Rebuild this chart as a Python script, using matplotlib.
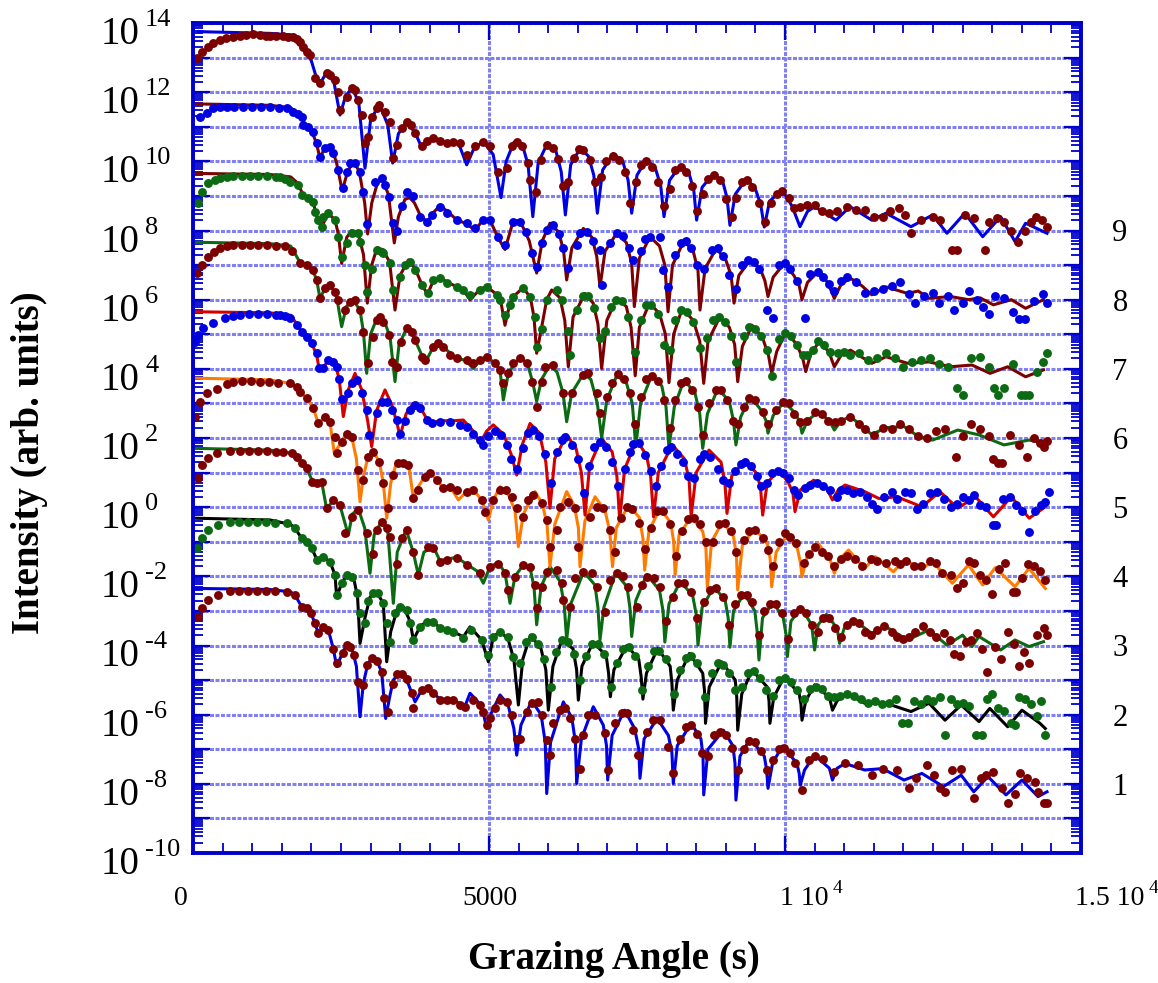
import numpy as np
import matplotlib
matplotlib.use("Agg")
import matplotlib.pyplot as plt
from matplotlib.transforms import ScaledTranslation, blended_transform_factory
from matplotlib.ticker import LogLocator, MultipleLocator, FixedLocator, NullFormatter

plt.rcParams['font.family'] = ['Liberation Serif', 'DejaVu Serif']

# ---------------- data (x in s, y as log10 intensity before the display shift) -------------
SHIFT_DECADES = [0, 2, 4, 6, 8, 10, 12, 14, 16]
CURVE_LABELS = ['1', '2', '3', '4', '5', '6', '7', '8', '9']

LINE_1 = [(60,-2.35),(1300,-2.38),(1650,-2.45),(1723,-2.54),(1836,-2.88),(1920,-2.93),(1993,-3.07),(2061,-3.36),(2117,-3.65),(2202,-3.46),(2286,-3.55),(2371,-4.1),(2427,-4.61),(2528,-4.2),(2600,-3.97),(2680,-4.05),(2760,-4.6),(2821,-6.06),(2877,-5.1),(2950,-4.55),(3018,-4.37),(3103,-4.44),(3187,-4.76),(3255,-6.11),(3320,-5.5),(3384,-5.0),(3480,-4.8),(3600,-4.95),(3690,-5.35),(3750,-5.63),(3863,-5.29),(3975,-5.24),(4060,-5.38),(4172,-5.55),(4400,-5.58),(4595,-5.75),(4679,-5.38),(4800,-5.6),(4904,-5.95),(4961,-6.4),(5040,-5.95),(5186,-5.43),(5320,-5.7),(5420,-6.4),(5468,-7.17),(5540,-6.3),(5721,-5.6),(5880,-6.0),(5950,-6.8),(5975,-8.28),(6040,-6.8),(6256,-5.63),(6400,-6.1),(6460,-6.8),(6481,-7.99),(6560,-6.7),(6762,-5.77),(6930,-6.3),(6985,-6.9),(7005,-7.89),(7080,-6.6),(7290,-5.87),(7460,-6.4),(7530,-7.0),(7550,-7.84),(7620,-6.7),(7841,-6.11),(8030,-6.6),(8090,-7.1),(8113,-7.99),(8180,-6.9),(8415,-6.25),(8580,-6.7),(8615,-7.2),(8627,-8.32),(8700,-7.0),(8960,-6.45),(9120,-6.9),(9155,-7.4),(9171,-8.47),(9240,-7.2),(9412,-6.69),(9650,-7.2),(9690,-7.6),(9713,-8.13),(9790,-7.4),(9956,-6.91),(10200,-7.4),(10240,-7.7),(10258,-8.04),(10330,-7.6),(10500,-7.17),(10750,-7.55),(10802,-7.89),(10880,-7.55),(11014,-7.41),(11346,-7.6),(11647,-7.56),(12010,-7.89),(12313,-7.7),(12675,-8.08),(12976,-7.75),(13188,-8.23),(13429,-7.79),(13733,-8.32),(14003,-7.89),(14274,-8.37),(14426,-8.23)]
DOTS_1 = [(90,-3.17),(147,-2.93),(259,-2.69),(428,-2.54),(625,-2.42),(780,-2.42),(930,-2.42),(1080,-2.42),(1230,-2.43),(1380,-2.43),(1582,-2.44),(1723,-2.54),(1836,-2.88),(1920,-2.93),(1993,-3.07),(2061,-3.36),(2117,-3.65),(2202,-3.46),(2286,-3.55),(2371,-4.1),(2427,-4.5),(2528,-4.21),(2596,-3.99),(2652,-4.04),(2720,-4.28),(2793,-5.05),(2877,-5.14),(2934,-4.57),(3018,-4.37),(3103,-4.44),(3187,-4.76),(3226,-5.53),(3299,-5.91),(3384,-5.1),(3441,-4.81),(3525,-4.81),(3609,-4.98),(3694,-5.38),(3722,-5.82),(3863,-5.29),(3975,-5.24),(4060,-5.38),(4172,-5.58),(4285,-5.58),(4397,-5.58),(4510,-5.72),(4595,-5.77),(4735,-5.58),(4848,-5.72),(4904,-5.91),(4961,-6.3),(5017,-6.11),(5101,-5.82),(5186,-5.58),(5298,-5.63),(5383,-6.01),(5468,-6.69),(5524,-6.69),(5636,-5.91),(5721,-5.67),(5833,-5.63),(5889,-6.01),(5975,-6.74),(6030,-7.17),(6087,-6.25),(6199,-5.87),(6284,-5.82),(6368,-6.11),(6453,-6.69),(6537,-7.56),(6594,-6.59),(6678,-6.01),(6791,-6.01),(6959,-6.54),(7016,-7.6),(7128,-6.25),(7241,-5.96),(7326,-5.94),(7438,-6.45),(7523,-7.17),(7664,-6.49),(7776,-6.16),(7889,-6.16),(8030,-6.93),(8113,-7.7),(8230,-6.7),(8330,-6.35),(8420,-6.3),(8520,-6.55),(8600,-7.1),(8700,-7.2),(8800,-6.6),(8900,-6.5),(9000,-6.6),(9100,-6.95),(9200,-7.6),(9300,-7.0),(9400,-6.75),(9500,-6.8),(9600,-7.05),(9700,-7.6),(9800,-7.3),(9900,-7.0),(9990,-6.95),(10080,-7.1),(10169,-7.41),(10287,-8.18),(10405,-7.31),(10500,-7.2),(10650,-7.27),(10828,-7.65),(11014,-7.41),(11225,-7.46),(11466,-7.75),(11647,-7.56),(11890,-7.6),(12101,-8.13),(12221,-7.84),(12403,-7.46),(12523,-7.75),(12615,-8.13),(12705,-8.23),(12826,-7.6),(12976,-7.56),(13188,-8.42),(13311,-7.84),(13400,-7.75),(13520,-7.65),(13672,-8.13),(13762,-8.56),(13885,-8.28),(13973,-7.7),(14095,-7.84),(14216,-7.94),(14274,-8.23),(14367,-8.56),(14430,-8.56)]

LINE_2 = [(60,-2.32),(1300,-2.37),(1650,-2.5),(1723,-2.61),(1836,-2.9),(1920,-3.0),(2005,-3.19),(2089,-3.5),(2202,-3.43),(2314,-3.58),(2399,-3.96),(2427,-4.6),(2522,-4.15),(2620,-3.95),(2720,-4.1),(2780,-4.6),(2821,-5.94),(2905,-5.2),(2990,-4.6),(3100,-4.45),(3215,-4.78),(3272,-6.47),(3340,-5.6),(3450,-4.95),(3560,-4.9),(3666,-5.3),(3722,-5.84),(3834,-5.46),(3947,-5.3),(4060,-5.3),(4172,-5.5),(4397,-5.6),(4566,-5.75),(4679,-5.46),(4876,-5.84),(4989,-6.47),(5073,-5.74),(5186,-5.6),(5320,-5.8),(5420,-6.4),(5496,-7.72),(5570,-6.4),(5700,-5.7),(5880,-6.1),(5960,-6.7),(6002,-7.87),(6080,-6.6),(6240,-5.8),(6420,-6.1),(6480,-6.7),(6509,-7.58),(6570,-6.6),(6760,-5.9),(6980,-6.3),(7020,-6.8),(7050,-7.48),(7110,-6.7),(7328,-6.0),(7530,-6.4),(7570,-6.9),(7600,-7.55),(7660,-6.8),(7850,-6.08),(8060,-6.6),(8090,-7.1),(8113,-7.87),(8180,-7.0),(8385,-6.23),(8610,-6.8),(8640,-7.3),(8657,-8.25),(8720,-7.2),(8929,-6.47),(9160,-7.0),(9185,-7.5),(9201,-8.45),(9270,-7.4),(9443,-6.71),(9700,-7.2),(9730,-7.6),(9745,-8.25),(9810,-7.5),(9987,-6.9),(10240,-7.4),(10270,-7.7),(10287,-8.16),(10350,-7.6),(10500,-7.14),(10750,-7.5),(10802,-7.87),(10880,-7.6),(11044,-7.38),(11346,-7.67),(11706,-7.67),(12128,-7.91),(12433,-7.67),(12703,-8.16),(12976,-7.72),(13277,-8.2),(13459,-7.82),(13762,-8.35),(14003,-7.87),(14306,-8.25),(14397,-8.4)]
DOTS_2 = [(62,-3.19),(147,-2.9),(259,-2.66),(428,-2.52),(625,-2.42),(780,-2.42),(930,-2.42),(1080,-2.43),(1230,-2.44),(1380,-2.45),(1582,-2.47),(1723,-2.61),(1836,-2.9),(1920,-3.0),(2005,-3.19),(2089,-3.53),(2202,-3.43),(2314,-3.58),(2399,-3.96),(2427,-4.54),(2522,-4.2),(2596,-3.96),(2680,-4.01),(2765,-4.49),(2821,-5.07),(2905,-5.36),(2962,-4.71),(3046,-4.49),(3130,-4.49),(3215,-4.78),(3272,-5.36),(3328,-5.89),(3412,-5.07),(3497,-4.88),(3609,-4.97),(3666,-5.36),(3722,-5.84),(3834,-5.46),(3947,-5.31),(4060,-5.31),(4172,-5.5),(4285,-5.55),(4397,-5.6),(4566,-5.79),(4700,-5.55),(4876,-5.84),(4989,-6.28),(5073,-5.74),(5186,-5.6),(5327,-5.74),(5411,-6.32),(5530,-6.5),(5620,-5.9),(5720,-5.75),(5830,-5.95),(5930,-6.4),(6040,-7.2),(6130,-6.2),(6230,-5.85),(6330,-5.9),(6430,-6.25),(6540,-7.0),(6640,-6.3),(6740,-5.95),(6840,-5.95),(6940,-6.25),(7060,-7.2),(7160,-6.5),(7260,-6.1),(7360,-6.05),(7460,-6.3),(7580,-7.3),(7680,-6.6),(7780,-6.15),(7880,-6.15),(7990,-6.4),(8120,-7.4),(8220,-6.7),(8320,-6.35),(8420,-6.3),(8520,-6.5),(8650,-7.5),(8760,-6.8),(8860,-6.5),(8960,-6.55),(9060,-6.8),(9150,-7.3),(9270,-7.2),(9380,-6.8),(9480,-6.75),(9580,-6.95),(9680,-7.3),(9800,-7.45),(9900,-7.0),(10000,-6.95),(10100,-7.05),(10200,-7.3),(10320,-7.55),(10420,-7.25),(10520,-7.2),(10620,-7.25),(10720,-7.45),(10830,-7.5),(10930,-7.45),(11040,-7.4),(11160,-7.45),(11280,-7.55),(11400,-7.65),(11520,-7.6),(11640,-7.7),(11760,-7.65),(11870,-7.55),(11980,-8.25),(12070,-8.25),(12180,-7.6),(12300,-7.7),(12400,-7.55),(12500,-7.6),(12620,-7.5),(12700,-8.6),(12800,-7.55),(12900,-7.7),(13000,-7.65),(13100,-7.75),(13230,-8.6),(13330,-8.6),(13420,-7.55),(13500,-7.4),(13600,-7.8),(13700,-7.9),(13820,-8.25),(13880,-8.3),(13960,-7.5),(14060,-7.55),(14160,-7.7),(14260,-8.05),(14330,-7.6),(14397,-8.6)]

LINE_3 = [(60,-2.3),(1300,-2.35),(1667,-2.44),(1751,-2.54),(1836,-2.73),(1920,-2.88),(2005,-3.2),(2089,-3.3),(2174,-3.28),(2258,-4.05),(2371,-3.8),(2483,-3.95),(2624,-4.81),(2690,-4.2),(2793,-4.05),(2900,-4.6),(2990,-5.91),(3060,-4.8),(3187,-4.4),(3290,-4.7),(3384,-6.78),(3450,-5.3),(3600,-4.65),(3720,-5.3),(3806,-5.96),(3900,-5.3),(4060,-5.15),(4172,-5.55),(4300,-5.5),(4454,-5.45),(4623,-5.65),(4800,-5.85),(4904,-6.2),(5017,-5.72),(5158,-5.6),(5270,-5.9),(5355,-6.78),(5439,-6.0),(5580,-5.67),(5693,-5.75),(5760,-6.3),(5805,-7.4),(5880,-6.3),(6030,-5.72),(6200,-6.15),(6270,-6.8),(6312,-7.84),(6380,-6.8),(6600,-5.87),(6790,-6.25),(6840,-6.9),(6875,-7.84),(6940,-6.9),(7140,-5.9),(7330,-6.3),(7380,-6.9),(7410,-7.74),(7480,-6.7),(7664,-5.95),(7880,-6.4),(7940,-7.0),(7970,-7.9),(8040,-6.8),(8230,-6.15),(8440,-6.55),(8500,-7.1),(8530,-7.99),(8600,-6.9),(8800,-6.3),(8990,-6.7),(9040,-7.2),(9070,-8.05),(9130,-7.0),(9310,-6.5),(9490,-7.0),(9530,-7.6),(9560,-8.42),(9620,-7.2),(9800,-6.75),(9970,-7.2),(10020,-7.7),(10040,-8.32),(10100,-7.3),(10270,-6.9),(10450,-7.4),(10500,-8.13),(10560,-7.4),(10700,-7.1),(10880,-7.5),(10922,-7.94),(11000,-7.5),(11164,-7.26),(11466,-7.65),(11706,-7.46),(12071,-7.84),(12433,-7.55),(12736,-7.99),(13000,-7.7),(13159,-8.03),(13277,-7.74),(13642,-8.13),(13885,-7.84),(14122,-8.03),(14367,-7.89)]
DOTS_3 = [(90,-3.17),(147,-2.78),(259,-2.59),(400,-2.44),(625,-2.37),(800,-2.37),(950,-2.37),(1100,-2.38),(1250,-2.39),(1400,-2.4),(1526,-2.4),(1667,-2.44),(1751,-2.54),(1836,-2.73),(1920,-2.88),(2005,-3.26),(2089,-3.31),(2174,-3.26),(2258,-4.03),(2371,-3.79),(2483,-3.94),(2568,-4.76),(2680,-4.28),(2793,-4.08),(2934,-4.76),(3035,-5.34),(3103,-4.66),(3187,-4.42),(3272,-4.61),(3328,-4.86),(3441,-5.63),(3525,-4.9),(3609,-4.66),(3722,-5.29),(3806,-5.96),(3975,-5.14),(4060,-5.17),(4172,-5.58),(4285,-5.53),(4454,-5.48),(4623,-5.67),(4848,-5.91),(5017,-5.72),(5158,-5.63),(5270,-5.91),(5327,-6.4),(5439,-6.01),(5580,-5.67),(5693,-5.72),(5777,-6.25),(5805,-6.93),(5889,-6.3),(5975,-5.87),(6143,-5.82),(6228,-6.2),(6256,-6.69),(6368,-6.88),(6453,-6.06),(6594,-5.87),(6734,-5.91),(6819,-6.3),(6959,-7.02),(7044,-6.11),(7157,-5.91),(7260,-6.0),(7354,-6.3),(7500,-6.9),(7580,-6.25),(7664,-6.01),(7780,-6.05),(7889,-6.3),(7990,-7.3),(8100,-6.6),(8200,-6.2),(8300,-6.2),(8420,-6.45),(8520,-7.2),(8640,-6.75),(8740,-6.4),(8840,-6.35),(8950,-6.6),(9050,-7.4),(9150,-6.8),(9250,-6.55),(9350,-6.55),(9450,-6.75),(9560,-7.7),(9650,-7.0),(9740,-6.8),(9840,-6.8),(9950,-7.05),(10050,-7.8),(10150,-7.05),(10250,-6.95),(10350,-7.05),(10450,-7.4),(10560,-7.6),(10650,-7.2),(10750,-7.2),(10850,-7.5),(10950,-7.75),(11050,-7.4),(11150,-7.3),(11250,-7.35),(11350,-7.6),(11450,-7.7),(11560,-7.55),(11680,-7.45),(11800,-7.6),(11900,-7.75),(12000,-7.8),(12100,-7.75),(12200,-7.6),(12330,-7.45),(12450,-7.6),(12550,-7.75),(12680,-7.65),(12780,-7.85),(12860,-8.25),(12950,-8.3),(13050,-7.9),(13150,-7.85),(13250,-7.65),(13330,-8.1),(13420,-8.76),(13550,-8.05),(13650,-8.4),(13760,-7.6),(13870,-7.95),(13950,-8.6),(14040,-8.2),(14130,-8.5),(14250,-7.7),(14370,-7.5),(14430,-7.7)]

LINE_4 = [(60,-2.27),(1300,-2.32),(1639,-2.42),(1751,-2.52),(1807,-2.66),(1920,-2.85),(2033,-3.14),(2117,-3.58),(2230,-3.38),(2314,-3.55),(2387,-4.44),(2511,-4.1),(2600,-3.85),(2680,-3.96),(2760,-4.6),(2821,-5.84),(2880,-5.1),(2962,-4.5),(3046,-4.38),(3147,-4.69),(3215,-5.3),(3272,-6.32),(3340,-5.3),(3430,-4.75),(3560,-4.7),(3650,-4.85),(3722,-5.74),(3790,-5.45),(3919,-5.1),(4003,-5.0),(4116,-5.2),(4229,-5.45),(4341,-5.4),(4482,-5.79),(4623,-5.55),(4735,-5.5),(4876,-5.79),(4989,-6.37),(5073,-5.79),(5186,-5.41),(5330,-5.65),(5440,-6.1),(5496,-7.14),(5580,-6.2),(5777,-5.55),(5900,-5.9),(5980,-6.5),(6030,-7.72),(6110,-6.5),(6312,-5.55),(6440,-5.95),(6510,-6.6),(6537,-7.72),(6620,-6.4),(6791,-5.7),(6960,-6.1),(7040,-6.7),(7086,-7.72),(7150,-6.6),(7358,-5.94),(7540,-6.3),(7600,-6.9),(7630,-7.82),(7700,-6.7),(7887,-6.03),(8070,-6.45),(8120,-7.0),(8144,-7.96),(8210,-6.8),(8416,-6.28),(8610,-6.7),(8665,-7.2),(8688,-8.35),(8760,-7.0),(8944,-6.42),(9130,-6.85),(9180,-7.4),(9201,-8.39),(9280,-7.1),(9488,-6.61),(9700,-7.05),(9750,-7.5),(9775,-8.3),(9850,-7.3),(10031,-6.81),(10210,-7.2),(10260,-7.6),(10287,-8.01),(10370,-7.45),(10560,-7.05),(10760,-7.5),(10833,-7.91),(10920,-7.5),(11074,-7.24),(11346,-7.77),(11527,-7.43),(11830,-7.87),(12010,-7.53),(12313,-7.77),(12493,-7.58),(12826,-8.2),(13098,-7.67),(13339,-8.25),(13550,-7.75),(13885,-8.3),(14122,-7.77),(14397,-8.35)]
DOTS_4 = [(34,-3.38),(118,-2.95),(231,-2.71),(400,-2.57),(569,-2.45),(681,-2.37),(830,-2.36),(980,-2.36),(1130,-2.37),(1280,-2.38),(1430,-2.4),(1639,-2.42),(1751,-2.52),(1807,-2.66),(1920,-2.85),(2033,-3.14),(2117,-3.58),(2230,-3.38),(2314,-3.53),(2399,-3.96),(2440,-4.44),(2511,-4.11),(2596,-3.87),(2680,-3.96),(2793,-4.93),(2866,-5.22),(2962,-4.54),(3046,-4.4),(3147,-4.69),(3215,-5.31),(3299,-6.03),(3384,-5.07),(3469,-4.73),(3553,-4.73),(3637,-4.78),(3722,-5.74),(3806,-5.5),(3919,-5.12),(4003,-5.02),(4116,-5.22),(4229,-5.46),(4341,-5.41),(4454,-5.5),(4623,-5.55),(4735,-5.5),(4876,-5.79),(4932,-6.13),(5073,-5.79),(5186,-5.5),(5280,-5.5),(5383,-5.7),(5468,-6.03),(5580,-6.28),(5664,-5.79),(5749,-5.65),(5889,-5.89),(5975,-6.37),(6030,-7.14),(6143,-6.66),(6199,-5.99),(6340,-5.84),(6453,-6.03),(6509,-7.14),(6706,-6.28),(6819,-5.99),(6931,-6.03),(7044,-6.66),(7120,-7.3),(7230,-6.3),(7330,-6.0),(7420,-6.05),(7530,-6.45),(7640,-7.2),(7740,-6.6),(7840,-6.1),(7940,-6.1),(8050,-6.5),(8160,-7.4),(8260,-6.7),(8360,-6.35),(8460,-6.3),(8560,-6.5),(8660,-7.0),(8780,-7.0),(8880,-6.5),(8980,-6.45),(9080,-6.7),(9180,-7.3),(9300,-6.95),(9400,-6.7),(9500,-6.65),(9620,-6.9),(9720,-7.25),(9800,-7.7),(9900,-7.0),(10000,-6.75),(10080,-6.85),(10180,-7.05),(10320,-7.6),(10400,-7.35),(10500,-7.15),(10620,-7.3),(10720,-7.4),(10830,-7.7),(10950,-7.5),(11050,-7.4),(11180,-7.5),(11300,-7.7),(11450,-7.5),(11560,-7.55),(11700,-7.6),(11850,-7.55),(11950,-7.65),(12050,-7.55),(12180,-7.7),(12300,-7.7),(12450,-7.55),(12550,-7.6),(12650,-7.9),(12800,-7.95),(12900,-8.35),(13000,-8.2),(13100,-7.55),(13200,-7.6),(13300,-7.95),(13400,-8.1),(13490,-8.5),(13620,-7.8),(13720,-7.6),(13850,-8.45),(13900,-8.45),(14000,-8.05),(14100,-7.65),(14200,-7.7),(14300,-7.85),(14400,-8.1)]

LINE_5 = [(60,-2.35),(1300,-2.38),(1650,-2.45),(1751,-2.7),(1836,-2.93),(1920,-3.07),(2005,-3.26),(2089,-3.6),(2134,-4.03),(2202,-3.95),(2290,-3.75),(2400,-3.85),(2470,-4.3),(2539,-5.38),(2624,-4.6),(2737,-4.13),(2849,-4.6),(2950,-5.5),(3018,-6.25),(3103,-5.2),(3243,-4.61),(3360,-5.05),(3450,-5.6),(3497,-5.95),(3600,-5.3),(3720,-5.0),(3834,-5.1),(3950,-5.45),(4032,-5.55),(4200,-5.5),(4400,-5.5),(4566,-5.48),(4735,-5.8),(4848,-6.15),(4960,-5.8),(5073,-5.62),(5250,-5.9),(5380,-6.5),(5468,-7.07),(5560,-6.2),(5693,-5.58),(5850,-5.85),(5960,-6.7),(6030,-8.03),(6110,-6.6),(6312,-5.91),(6470,-6.3),(6560,-7.0),(6622,-8.23),(6700,-6.8),(6900,-6.01),(7080,-6.4),(7160,-7.1),(7208,-8.37),(7290,-6.9),(7494,-6.06),(7660,-6.5),(7730,-7.1),(7780,-8.28),(7860,-7.0),(8097,-6.2),(8300,-6.6),(8380,-7.2),(8415,-8.28),(8500,-7.0),(8717,-6.35),(8920,-6.7),(8985,-7.3),(9020,-8.18),(9100,-7.1),(9321,-6.64),(9510,-7.0),(9585,-7.4),(9623,-8.23),(9700,-7.3),(9896,-6.91),(10060,-7.3),(10135,-7.6),(10169,-8.13),(10260,-7.5),(10485,-7.22),(10700,-7.45),(10802,-7.79),(10900,-7.5),(11014,-7.36),(11346,-7.55),(11588,-7.75),(11890,-7.7),(12313,-7.99),(12615,-7.55),(12918,-8.03),(13218,-7.7),(13520,-8.28),(13823,-7.7),(14125,-8.32),(14397,-7.99)]
DOTS_5 = [(34,-3.22),(90,-3.03),(174,-2.83),(343,-2.68),(540,-2.54),(680,-2.47),(794,-2.44),(950,-2.42),(1100,-2.42),(1250,-2.42),(1400,-2.43),(1470,-2.44),(1560,-2.48),(1639,-2.54),(1751,-2.73),(1836,-2.93),(1920,-3.07),(2005,-3.26),(2089,-3.55),(2134,-3.99),(2202,-3.99),(2286,-3.75),(2371,-3.8),(2427,-3.94),(2472,-4.28),(2511,-4.86),(2624,-4.71),(2680,-4.42),(2765,-4.32),(2849,-4.71),(2934,-5.19),(2979,-5.91),(3103,-5.29),(3187,-4.95),(3272,-4.95),(3356,-5.19),(3441,-5.48),(3497,-5.87),(3580,-5.5),(3666,-5.19),(3750,-5.05),(3834,-5.14),(3947,-5.48),(4032,-5.58),(4172,-5.53),(4341,-5.53),(4510,-5.63),(4623,-5.67),(4735,-5.87),(4848,-6.06),(4904,-6.2),(4990,-5.95),(5100,-5.8),(5200,-5.9),(5300,-6.2),(5380,-6.6),(5480,-6.9),(5570,-6.3),(5660,-5.85),(5749,-5.77),(5850,-5.95),(5950,-6.45),(6050,-7.3),(6150,-6.4),(6230,-6.05),(6284,-5.96),(6400,-6.2),(6500,-6.6),(6600,-7.6),(6690,-6.8),(6780,-6.25),(6875,-6.11),(6980,-6.25),(7080,-6.7),(7180,-7.4),(7300,-6.9),(7380,-6.4),(7438,-6.16),(7530,-6.15),(7640,-6.5),(7730,-6.95),(7820,-7.4),(7900,-6.8),(8000,-6.35),(8080,-6.25),(8180,-6.45),(8280,-6.7),(8360,-7.1),(8470,-7.15),(8560,-6.6),(8640,-6.45),(8730,-6.55),(8860,-6.9),(8960,-7.2),(9060,-7.3),(9150,-6.95),(9250,-6.75),(9330,-6.7),(9420,-6.8),(9520,-7.1),(9600,-7.4),(9700,-7.3),(9780,-7.0),(9880,-6.95),(9960,-7.0),(10060,-7.15),(10150,-7.5),(10220,-7.65),(10330,-7.45),(10420,-7.35),(10540,-7.3),(10650,-7.4),(10760,-7.5),(10880,-7.7),(10950,-7.5),(11050,-7.5),(11150,-7.6),(11270,-7.55),(11380,-7.7),(11470,-7.9),(11560,-8.05),(11680,-7.7),(11800,-7.55),(11900,-7.75),(12020,-7.55),(12120,-7.6),(12230,-8.05),(12330,-7.9),(12450,-7.6),(12560,-7.55),(12680,-7.75),(12800,-8.0),(12900,-7.9),(13000,-7.7),(13100,-7.8),(13200,-7.65),(13300,-7.95),(13400,-8.0),(13520,-8.52),(13560,-8.52),(13680,-7.75),(13800,-7.7),(13900,-7.95),(14000,-8.1),(14125,-8.71),(14230,-8.1),(14330,-7.95),(14400,-7.85),(14460,-7.55)]

LINE_6 = [(60,-2.34),(1300,-2.38),(1650,-2.45),(1800,-2.9),(1920,-3.0),(2022,-3.14),(2089,-3.43),(2145,-3.96),(2230,-3.67),(2314,-3.58),(2420,-3.85),(2511,-4.78),(2590,-4.2),(2700,-4.0),(2821,-4.3),(2880,-4.95),(2934,-6.13),(3000,-5.0),(3103,-4.55),(3159,-4.49),(3250,-4.7),(3330,-5.1),(3412,-6.37),(3480,-5.3),(3609,-4.83),(3720,-5.05),(3863,-5.6),(3930,-5.8),(4060,-5.36),(4144,-5.26),(4280,-5.45),(4454,-5.7),(4600,-5.75),(4735,-5.99),(4848,-5.75),(4961,-5.65),(5101,-5.84),(5186,-6.03),(5242,-6.9),(5327,-6.13),(5450,-5.8),(5550,-5.7),(5650,-5.85),(5740,-6.4),(5805,-6.94),(5889,-6.3),(6030,-5.89),(6150,-6.1),(6250,-6.7),(6312,-7.53),(6397,-6.7),(6594,-6.15),(6720,-6.3),(6830,-7.0),(6903,-8.0),(6990,-6.9),(7157,-6.2),(7320,-6.4),(7420,-7.0),(7480,-8.25),(7560,-7.0),(7751,-6.18),(7920,-6.5),(7990,-7.1),(8040,-8.3),(8130,-7.1),(8294,-6.32),(8480,-6.7),(8560,-7.3),(8610,-8.3),(8690,-7.3),(8868,-6.56),(9060,-6.95),(9130,-7.5),(9171,-8.2),(9250,-7.4),(9412,-6.8),(9600,-7.2),(9680,-7.5),(9713,-7.86),(9800,-7.35),(9987,-6.95),(10180,-7.3),(10250,-7.55),(10287,-7.86),(10380,-7.5),(10561,-7.24),(10750,-7.5),(10833,-7.77),(10950,-7.5),(11105,-7.38),(11466,-7.9),(11706,-7.7),(12010,-7.67),(12250,-7.95),(12493,-8.06),(12918,-7.77),(13277,-7.91),(13699,-8.2),(14122,-8.06),(14392,-8.15)]
DOTS_6 = [(73,-3.22),(147,-3.0),(259,-2.76),(360,-2.62),(456,-2.52),(570,-2.46),(681,-2.42),(820,-2.42),(960,-2.42),(1100,-2.42),(1250,-2.43),(1400,-2.44),(1550,-2.46),(1680,-2.6),(1807,-2.95),(1920,-3.0),(2022,-3.14),(2089,-3.43),(2145,-3.96),(2230,-3.67),(2314,-3.58),(2399,-3.77),(2455,-4.01),(2568,-4.3),(2652,-4.06),(2737,-4.01),(2821,-4.3),(2877,-4.93),(2962,-5.84),(3035,-5.07),(3103,-4.59),(3159,-4.49),(3215,-4.64),(3316,-5.02),(3356,-5.79),(3441,-5.94),(3508,-5.22),(3609,-4.83),(3694,-4.93),(3750,-5.17),(3863,-5.65),(3919,-5.75),(4060,-5.36),(4144,-5.26),(4229,-5.36),(4341,-5.6),(4454,-5.7),(4623,-5.75),(4735,-5.84),(4848,-5.75),(4961,-5.65),(5101,-5.84),(5186,-6.03),(5242,-6.42),(5327,-6.13),(5411,-5.84),(5524,-5.7),(5636,-5.84),(5721,-6.37),(5805,-7.09),(5889,-6.37),(5946,-5.94),(6087,-5.9),(6256,-6.71),(6397,-6.71),(6594,-6.18),(6678,-6.13),(6819,-6.71),(6875,-7.29),(6990,-6.8),(7080,-6.4),(7177,-6.15),(7280,-6.3),(7380,-6.7),(7460,-7.6),(7560,-6.8),(7660,-6.3),(7751,-6.2),(7850,-6.35),(7950,-6.9),(8050,-7.7),(8140,-6.9),(8250,-6.4),(8330,-6.35),(8430,-6.6),(8530,-7.1),(8620,-7.9),(8720,-7.0),(8830,-6.6),(8920,-6.6),(9020,-6.9),(9120,-7.5),(9200,-7.6),(9300,-7.1),(9400,-6.85),(9500,-6.9),(9620,-7.25),(9720,-7.6),(9850,-7.2),(9960,-6.95),(10060,-7.0),(10160,-7.3),(10260,-7.55),(10380,-7.5),(10500,-7.25),(10620,-7.3),(10720,-7.5),(10840,-7.55),(10950,-7.5),(11100,-7.4),(11250,-7.6),(11350,-7.75),(11500,-7.9),(11650,-7.7),(11800,-7.75),(11950,-7.6),(12100,-7.75),(12250,-7.95),(12400,-8.0),(12550,-7.8),(12700,-7.75),(12890,-8.55),(13000,-7.95),(13150,-7.6),(13300,-7.75),(13450,-7.95),(13520,-8.6),(13600,-8.72),(13660,-8.72),(13800,-7.9),(13950,-8.2),(14090,-8.55),(14200,-8.0),(14300,-8.15),(14380,-8.25),(14430,-8.1)]

LINE_7 = [(60,-2.35),(1300,-2.38),(1650,-2.45),(1780,-2.65),(1850,-2.95),(1950,-3.07),(2040,-3.25),(2100,-3.65),(2174,-3.89),(2286,-3.5),(2399,-3.7),(2455,-4.1),(2511,-4.95),(2596,-4.2),(2680,-4.0),(2800,-4.15),(2880,-4.7),(2945,-6.1),(3018,-5.0),(3110,-4.5),(3200,-4.55),(3320,-4.9),(3412,-6.3),(3497,-5.3),(3640,-4.85),(3750,-5.1),(3863,-5.55),(3960,-5.85),(4060,-5.45),(4172,-5.36),(4300,-5.5),(4450,-5.62),(4566,-5.72),(4679,-6.0),(4848,-5.7),(4961,-5.62),(5130,-5.85),(5200,-6.05),(5270,-6.74),(5355,-6.1),(5450,-5.85),(5580,-5.65),(5700,-5.95),(5760,-6.5),(5805,-7.55),(5889,-6.8),(5975,-6.0),(6059,-5.72),(6200,-5.95),(6280,-6.6),(6340,-7.94),(6420,-6.5),(6622,-5.82),(6760,-6.1),(6840,-6.7),(6903,-7.99),(6990,-6.6),(7157,-5.96),(7320,-6.2),(7400,-6.8),(7470,-8.2),(7540,-6.8),(7710,-6.1),(7880,-6.4),(7980,-7.0),(8040,-8.4),(8120,-7.0),(8265,-6.25),(8450,-6.6),(8560,-7.2),(8627,-8.42),(8700,-7.2),(8898,-6.5),(9060,-6.8),(9150,-7.3),(9201,-8.37),(9280,-7.35),(9443,-6.74),(9620,-7.1),(9720,-7.6),(9775,-8.13),(9860,-7.5),(10017,-6.92),(10200,-7.3),(10300,-7.7),(10350,-8.08),(10430,-7.6),(10591,-7.17),(10750,-7.55),(10833,-7.94),(10950,-7.6),(11105,-7.46),(11466,-7.84),(11706,-7.65),(12071,-7.84),(12433,-7.8),(12796,-7.94),(13159,-7.89),(13463,-8.13),(13762,-7.94),(14064,-8.23),(14367,-8.03)]
DOTS_7 = [(90,-3.21),(147,-2.88),(259,-2.64),(370,-2.55),(456,-2.49),(570,-2.45),(681,-2.42),(820,-2.42),(960,-2.42),(1100,-2.43),(1250,-2.43),(1400,-2.44),(1470,-2.44),(1560,-2.5),(1639,-2.59),(1779,-2.68),(1836,-2.97),(1948,-3.07),(2033,-3.17),(2061,-3.46),(2117,-3.7),(2174,-3.89),(2202,-3.6),(2286,-3.5),(2399,-3.7),(2455,-4.18),(2522,-4.78),(2596,-4.37),(2680,-4.08),(2793,-4.08),(2821,-4.32),(2905,-5.0),(2945,-5.77),(3018,-5.1),(3103,-4.55),(3187,-4.61),(3215,-4.66),(3328,-4.95),(3384,-5.72),(3497,-5.34),(3581,-5.0),(3666,-4.9),(3750,-5.14),(3863,-5.58),(3975,-5.82),(4060,-5.43),(4172,-5.38),(4285,-5.53),(4454,-5.64),(4566,-5.72),(4679,-5.87),(4848,-5.72),(4961,-5.64),(5130,-5.87),(5186,-6.0),(5270,-6.45),(5355,-6.16),(5411,-5.92),(5580,-5.67),(5693,-5.92),(5777,-6.5),(5805,-7.36),(5889,-6.84),(5975,-6.0),(6143,-5.72),(6228,-6.0),(6340,-6.92),(6360,-7.6),(6480,-6.3),(6580,-5.9),(6680,-5.9),(6780,-6.25),(6870,-7.1),(6960,-6.9),(7060,-6.2),(7150,-6.0),(7250,-6.05),(7350,-6.5),(7460,-7.5),(7560,-6.6),(7650,-6.15),(7740,-6.15),(7850,-6.4),(7960,-7.3),(8060,-7.45),(8150,-6.6),(8250,-6.3),(8350,-6.35),(8450,-6.65),(8560,-7.4),(8680,-7.1),(8780,-6.6),(8880,-6.5),(8980,-6.65),(9080,-7.05),(9180,-7.8),(9300,-7.05),(9400,-6.8),(9500,-6.85),(9600,-7.05),(9700,-7.45),(9780,-8.2),(9900,-7.15),(10000,-6.95),(10100,-7.05),(10200,-7.3),(10300,-7.6),(10380,-7.6),(10470,-7.45),(10560,-7.2),(10660,-7.3),(10760,-7.5),(10900,-7.55),(11000,-7.5),(11105,-7.6),(11250,-7.55),(11400,-7.75),(11550,-7.7),(11700,-7.55),(11850,-7.7),(12000,-7.95),(12150,-7.8),(12300,-7.75),(12450,-7.7),(12600,-7.85),(12750,-7.95),(12900,-8.55),(13000,-8.75),(13150,-7.7),(13300,-7.65),(13450,-7.95),(13530,-8.55),(13600,-8.75),(13700,-8.55),(13850,-7.85),(13980,-8.75),(14060,-8.75),(14120,-8.75),(14250,-8.1),(14360,-7.8),(14430,-7.55)]

LINE_8 = [(60,-2.34),(1300,-2.38),(1650,-2.45),(1800,-2.65),(1900,-2.95),(2000,-3.1),(2080,-3.45),(2145,-3.9),(2230,-3.6),(2330,-3.6),(2420,-4.0),(2520,-4.85),(2620,-4.25),(2720,-4.02),(2810,-4.3),(2900,-5.2),(2950,-6.1),(3020,-5.2),(3120,-4.6),(3200,-4.55),(3300,-4.95),(3400,-6.36),(3470,-5.6),(3580,-5.1),(3660,-5.05),(3740,-5.2),(3850,-5.6),(3960,-5.75),(4050,-5.5),(4172,-5.28),(4300,-5.45),(4460,-5.7),(4620,-5.8),(4764,-6.0),(4904,-5.68),(5017,-5.7),(5150,-6.2),(5270,-6.55),(5411,-5.72),(5524,-5.72),(5680,-6.3),(5805,-7.23),(5900,-6.3),(6030,-5.79),(6180,-6.05),(6260,-6.6),(6312,-7.43),(6400,-6.5),(6594,-5.94),(6740,-6.2),(6820,-6.75),(6875,-7.63),(6960,-6.6),(7157,-6.08),(7320,-6.35),(7410,-6.95),(7455,-8.2),(7540,-6.8),(7720,-6.18),(7880,-6.45),(7970,-7.0),(8024,-8.35),(8100,-7.0),(8294,-6.3),(8450,-6.6),(8530,-7.15),(8564,-8.3),(8650,-7.1),(8838,-6.52),(9000,-6.85),(9090,-7.3),(9139,-8.1),(9220,-7.3),(9412,-6.85),(9580,-7.1),(9660,-7.45),(9713,-7.91),(9800,-7.35),(9987,-6.95),(10150,-7.3),(10240,-7.6),(10287,-8.0),(10380,-7.5),(10561,-7.19),(10720,-7.5),(10833,-7.96),(10950,-7.55),(11105,-7.38),(11300,-7.6),(11466,-7.86),(11706,-7.63),(12071,-7.82),(12250,-7.75),(12433,-7.96),(12796,-7.91),(13098,-8.0),(13300,-7.95),(13520,-8.15),(13823,-8.0),(14064,-8.25),(14367,-8.0)]
DOTS_8 = [(118,-2.71),(231,-2.61),(343,-2.47),(450,-2.44),(569,-2.42),(700,-2.42),(850,-2.42),(1000,-2.42),(1150,-2.43),(1300,-2.44),(1450,-2.45),(1582,-2.47),(1694,-2.56),(1780,-2.62),(1836,-2.71),(1864,-2.95),(1948,-3.0),(2033,-3.14),(2089,-3.48),(2145,-3.87),(2230,-3.62),(2314,-3.58),(2370,-3.77),(2455,-4.25),(2528,-4.78),(2596,-4.3),(2652,-4.06),(2737,-4.06),(2821,-4.32),(2877,-4.88),(2934,-5.81),(3074,-4.59),(3187,-4.49),(3243,-4.68),(3316,-5.02),(3384,-5.79),(3441,-6.0),(3530,-5.3),(3609,-4.9),(3722,-5.0),(3834,-5.6),(3947,-5.75),(4032,-5.55),(4172,-5.31),(4285,-5.5),(4454,-5.7),(4623,-5.79),(4764,-5.94),(4904,-5.7),(5017,-5.7),(5158,-6.18),(5270,-6.42),(5411,-5.75),(5524,-5.75),(5621,-6.05),(5721,-6.66),(5805,-7.05),(5889,-6.37),(5975,-5.99),(6087,-5.84),(6180,-6.1),(6256,-6.52),(6340,-7.09),(6481,-6.42),(6537,-6.08),(6650,-6.05),(6760,-6.3),(6875,-6.56),(6903,-7.58),(7044,-6.37),(7157,-6.08),(7260,-6.15),(7360,-6.5),(7438,-6.85),(7560,-6.6),(7640,-6.25),(7720,-6.18),(7889,-6.18),(7945,-7.14),(8030,-7.63),(8150,-6.7),(8240,-6.35),(8330,-6.3),(8420,-6.5),(8520,-7.0),(8640,-7.1),(8760,-6.55),(8860,-6.5),(8960,-6.75),(9060,-7.3),(9180,-7.7),(9280,-7.0),(9380,-6.85),(9470,-6.9),(9560,-7.1),(9700,-8.3),(9805,-8.53),(9900,-7.0),(10000,-6.95),(10080,-7.1),(10200,-7.45),(10340,-8.53),(10420,-7.25),(10550,-7.2),(10650,-7.35),(10750,-7.55),(10830,-7.75),(10950,-7.45),(11050,-7.35),(11200,-7.5),(11350,-7.8),(11500,-7.75),(11650,-7.7),(11800,-7.6),(11950,-7.5),(12100,-7.85),(12200,-8.1),(12350,-7.9),(12500,-7.8),(12600,-8.1),(12750,-7.9),(12850,-8.3),(13000,-8.1),(13100,-7.75),(13250,-8.0),(13350,-8.2),(13450,-8.4),(13550,-7.9),(13700,-7.95),(13850,-8.35),(13950,-8.55),(14050,-8.55),(14200,-8.05),(14350,-7.85),(14420,-8.1)]

LINE_9 = [(100,-2.25),(1300,-2.3),(1700,-2.35),(1800,-2.55),(1900,-2.75),(2000,-3.1),(2080,-3.55),(2145,-3.75),(2250,-3.45),(2380,-3.7),(2483,-4.66),(2580,-4.1),(2690,-3.88),(2800,-4.3),(2905,-6.2),(3000,-4.8),(3150,-4.35),(3290,-4.95),(3373,-6.05),(3470,-5.2),(3610,-4.85),(3760,-5.2),(3863,-5.6),(3960,-5.45),(4060,-5.3),(4250,-5.45),(4480,-5.45),(4623,-6.1),(4740,-5.65),(4900,-5.42),(5070,-5.8),(5203,-7.05),(5290,-6.0),(5420,-5.45),(5560,-5.5),(5660,-6.1),(5740,-7.6),(5830,-6.05),(5980,-5.5),(6130,-5.7),(6220,-6.3),(6290,-7.55),(6380,-6.1),(6540,-5.62),(6680,-5.85),(6770,-6.4),(6830,-7.5),(6920,-6.25),(7100,-5.78),(7260,-6.0),(7350,-6.55),(7410,-7.5),(7500,-6.4),(7660,-5.94),(7810,-6.2),(7900,-6.7),(7956,-7.6),(8050,-6.55),(8235,-6.11),(8380,-6.35),(8460,-6.85),(8507,-7.7),(8600,-6.75),(8796,-6.35),(8950,-6.6),(9020,-7.05),(9070,-7.85),(9160,-6.95),(9352,-6.5),(9500,-6.8),(9590,-7.25),(9650,-7.9),(9740,-7.15),(9956,-6.83),(10120,-7.3),(10253,-7.89),(10380,-7.45),(10500,-7.31),(10862,-7.7),(11098,-7.31),(11466,-7.7),(11706,-7.5),(12128,-7.89),(12493,-7.55),(12736,-8.08),(13037,-7.5),(13339,-8.18),(13642,-7.6),(13885,-8.32),(14064,-7.79),(14426,-8.08)]
DOTS_9 = [(68,-3.0),(152,-2.84),(250,-2.7),(338,-2.58),(450,-2.5),(560,-2.43),(676,-2.4),(800,-2.37),(900,-2.35),(1014,-2.33),(1130,-2.36),(1240,-2.38),(1301,-2.38),(1400,-2.39),(1520,-2.38),(1600,-2.4),(1689,-2.4),(1750,-2.45),(1807,-2.55),(1858,-2.69),(1930,-2.85),(1976,-2.92),(2061,-3.6),(2145,-3.74),(2258,-3.45),(2320,-3.5),(2399,-3.65),(2455,-3.99),(2483,-4.52),(2596,-4.13),(2680,-3.89),(2730,-3.95),(2793,-4.23),(2849,-4.66),(2905,-5.48),(2962,-5.29),(3018,-4.71),(3100,-4.45),(3147,-4.37),(3243,-4.56),(3328,-4.85),(3373,-5.91),(3441,-5.53),(3525,-5.05),(3609,-4.85),(3680,-4.95),(3750,-5.19),(3863,-5.57),(3950,-5.4),(4060,-5.33),(4170,-5.4),(4285,-5.48),(4400,-5.45),(4510,-5.48),(4623,-5.82),(4760,-5.55),(4904,-5.43),(5017,-5.57),(5158,-6.3),(5298,-6.2),(5383,-5.57),(5468,-5.43),(5560,-5.55),(5664,-6.05),(5693,-6.54),(5800,-6.9),(5880,-5.95),(5975,-5.53),(6080,-5.6),(6171,-5.94),(6250,-6.7),(6340,-6.6),(6430,-5.9),(6520,-5.65),(6594,-5.67),(6700,-5.95),(6790,-6.6),(6900,-6.45),(6980,-6.0),(7100,-5.85),(7200,-5.95),(7300,-6.3),(7380,-7.2),(7480,-6.6),(7560,-6.1),(7660,-6.0),(7760,-6.15),(7860,-6.6),(7960,-7.3),(8050,-6.8),(8140,-6.25),(8235,-6.15),(8330,-6.3),(8430,-6.7),(8520,-7.45),(8620,-6.95),(8700,-6.5),(8796,-6.4),(8900,-6.55),(9000,-7.1),(9100,-7.6),(9180,-7.05),(9270,-6.6),(9352,-6.55),(9450,-6.75),(9560,-7.2),(9660,-7.75),(9760,-7.2),(9860,-6.95),(9956,-6.85),(10060,-7.05),(10150,-7.35),(10253,-7.31),(10380,-7.25),(10500,-7.26),(10620,-7.45),(10743,-7.5),(10880,-7.45),(11044,-7.31),(11200,-7.4),(11346,-7.41),(11500,-7.6),(11647,-7.6),(11780,-7.45),(11919,-7.36),(12020,-7.55),(12128,-8.08),(12300,-7.7),(12493,-7.6),(12620,-7.7),(12826,-8.56),(12900,-8.56),(13037,-7.55),(13200,-7.65),(13370,-8.56),(13450,-7.75),(13581,-7.65),(13700,-7.75),(13820,-8.0),(13944,-8.32),(14050,-8.0),(14150,-7.75),(14245,-7.6),(14340,-7.7),(14426,-7.89)]

LINES = [LINE_1, LINE_2, LINE_3, LINE_4, LINE_5, LINE_6, LINE_7, LINE_8, LINE_9]
DOTS = [DOTS_1, DOTS_2, DOTS_3, DOTS_4, DOTS_5, DOTS_6, DOTS_7, DOTS_8, DOTS_9]

MAROON = '#7d0000'
BLUE = '#0000e0'
GREEN = '#0b6a12'
RED = '#d40000'
ORANGE = '#ff7a00'
BLACK = '#000000'
LINE_COLORS = [BLUE, BLACK, GREEN, ORANGE, RED, GREEN, MAROON, MAROON, BLUE]
DOT_COLORS = [MAROON, GREEN, MAROON, MAROON, BLUE, MAROON, GREEN, BLUE, MAROON]

Y_EXPONENTS = list(range(-10, 15, 2))
XTICKS = [0, 5000, 10000, 15000]

# ---------------- figure ----------------
W, H = 1158, 983
fig = plt.figure(figsize=(W / 100, H / 100), dpi=100)
L, R, T, B = 193, 1081, 23, 853
ax = fig.add_axes([L / W, 1 - B / H, (R - L) / W, (B - T) / H])
ax.set_yscale('log')
ax.set_xlim(0, 15000)
ax.set_ylim(1e-10, 1e14)

SPINE = '#0000cc'
GRID = '#8080f0'

for k in range(9):
    pts = sorted(LINES[k])
    lx = np.array([p[0] for p in pts]); ly = np.array([p[1] for p in pts])
    dts = sorted(DOTS[k])
    dx = np.array([p[0] for p in dts]); dy = np.array([p[1] for p in dts])
    s = SHIFT_DECADES[k]
    ax.plot(lx, 10.0 ** (ly + s), color=LINE_COLORS[k], lw=2.2, zorder=3 + 0.01 * k,
            solid_joinstyle='round')
    ax.plot(dx, 10.0 ** (dy + s), 'o', color=DOT_COLORS[k], ms=6.4, mew=0,
            zorder=4 + 0.01 * k)

# grid / ticks
ax.xaxis.set_major_locator(FixedLocator(XTICKS))
ax.xaxis.set_minor_locator(MultipleLocator(500))
ax.yaxis.set_major_locator(LogLocator(base=10, numticks=60))
ax.yaxis.set_minor_locator(LogLocator(base=10, subs=np.arange(2, 10), numticks=600))
for a in (ax.xaxis, ax.yaxis):
    a.set_major_formatter(NullFormatter())
    a.set_minor_formatter(NullFormatter())
ax.grid(True, which='major', color=GRID, linestyle=(0, (1.3, 0.5)), linewidth=2.2, zorder=1)
ax.set_axisbelow(True)
ax.tick_params(which='both', direction='in', top=True, right=True, color=SPINE)
ax.tick_params(which='major', length=12, width=1.6)
ax.tick_params(which='minor', length=7, width=1.3)
for sp in ax.spines.values():
    sp.set_color(SPINE)
    sp.set_linewidth(2.8)
    sp.set_zorder(6)

# y tick labels: "10" + raised exponent
ytrans = blended_transform_factory(ax.transAxes, ax.transData)
for e in Y_EXPONENTS:
    ax.text((139 - L) / (R - L), 10.0 ** e, '10', fontsize=28, ha='right', va='baseline',
            transform=ytrans + ScaledTranslation(0, -0.21, fig.dpi_scale_trans), clip_on=False)
    ax.text((145 - L) / (R - L), 10.0 ** e, '%d' % e, fontsize=19, ha='left', va='baseline',
            transform=ytrans + ScaledTranslation(0, -0.03, fig.dpi_scale_trans), clip_on=False)

# x tick labels: main part right-aligned, exponent placed just after it
xtrans = blended_transform_factory(ax.transData, ax.transAxes)
XLAB_MAIN = ['0', '5000', '1 10', '1.5 10']
XLAB_EXP = ['', '', '4', '4']
XLAB_DX_PX = [-12, 1, 43, 63]
for v, m, ex, dxp in zip(XTICKS, XLAB_MAIN, XLAB_EXP, XLAB_DX_PX):
    t = xtrans + ScaledTranslation(dxp / 100, -0.52, fig.dpi_scale_trans)
    if ex:
        ax.text(v, 0, m, fontsize=20, ha='right', va='baseline', transform=t, clip_on=False)
        ax.text(v, 0, ex, fontsize=14, ha='left', va='baseline', clip_on=False,
                transform=xtrans + ScaledTranslation((dxp + 5) / 100, -0.40, fig.dpi_scale_trans))
    else:
        ax.text(v, 0, m, fontsize=20, ha='center', va='baseline', transform=t, clip_on=False)

# curve numbers on the right
for k in range(9):
    ax.text((1120 - L) / (R - L), 10.0 ** (SHIFT_DECADES[k] - 8.1), CURVE_LABELS[k],
            fontsize=22, ha='center', va='center', transform=ytrans, clip_on=False)

fig.text(614 / W, 1 - 960 / H, 'Grazing Angle (s)', fontsize=28, fontweight='bold',
         ha='center', va='center')
fig.text(30 / W, 1 - 463 / H, 'Intensity (arb. units)', fontsize=28, fontweight='bold',
         ha='center', va='center', rotation=90)

fig.savefig('out.png', dpi=100)
